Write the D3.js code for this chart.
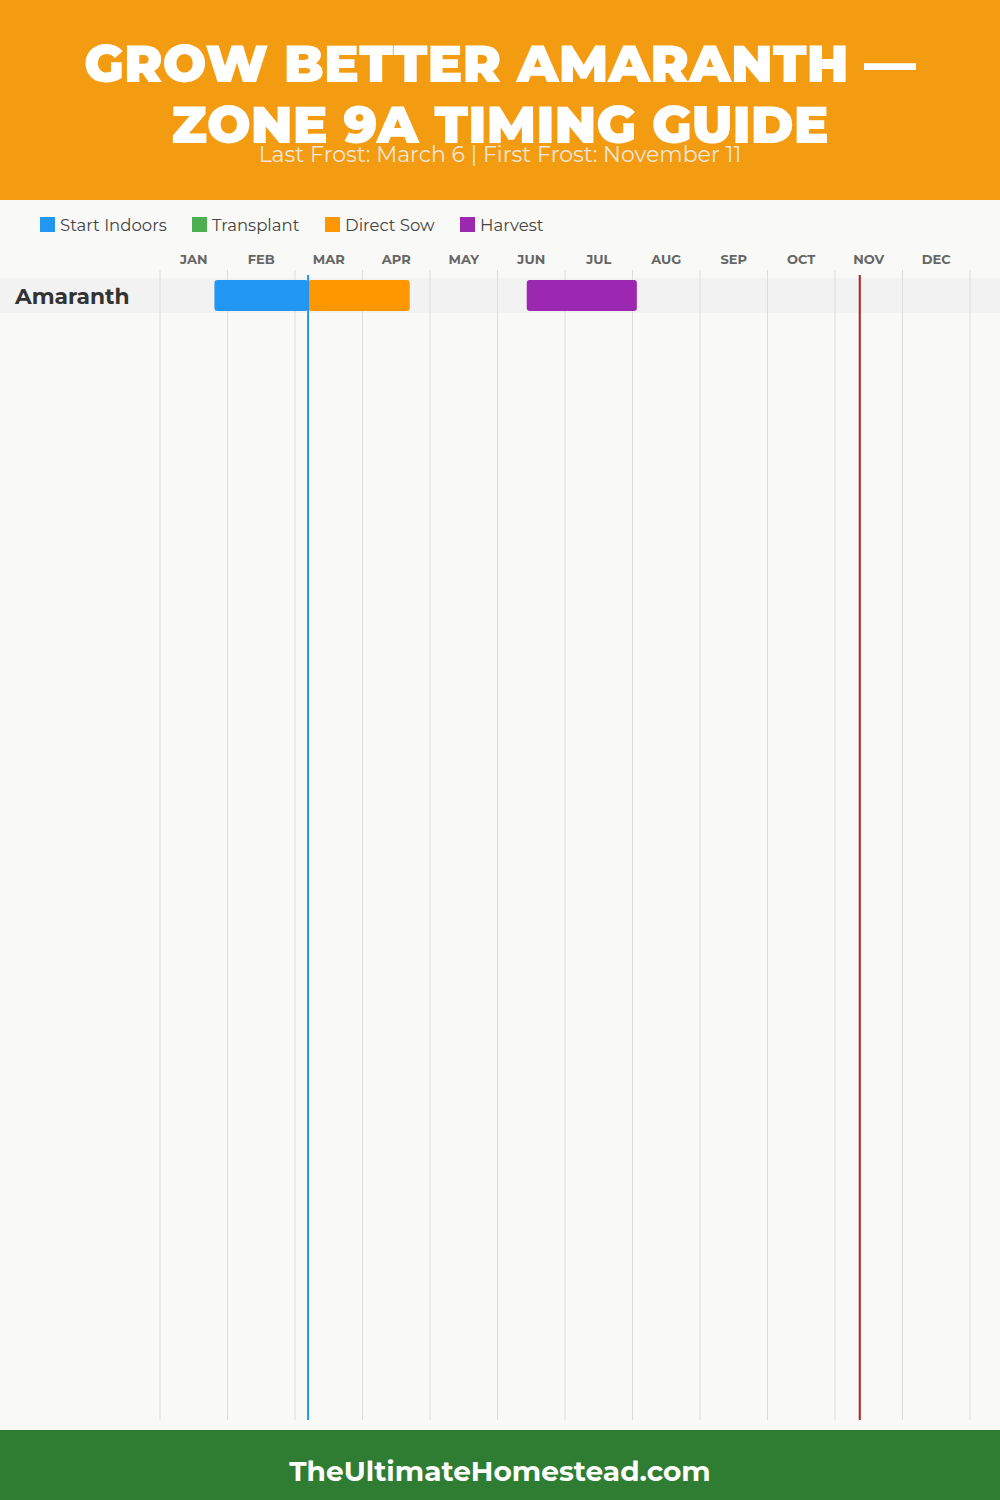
<!DOCTYPE html>
<html><head><meta charset="utf-8">
<script src="https://cdn.jsdelivr.net/npm/d3@7"></script>
<style>
html,body{margin:0;padding:0;background:#f9f9f7;}
svg{display:block;}
</style></head>
<body>
<svg id="chart" width="1000" height="1500"></svg>
<script>
// ---- data ----
const titleLines = ["GROW BETTER AMARANTH —", "ZONE 9A TIMING GUIDE"];
const subtitle = "Last Frost: March 6 | First Frost: November 11";
const footerText = "TheUltimateHomestead.com";
const months = ["JAN","FEB","MAR","APR","MAY","JUN","JUL","AUG","SEP","OCT","NOV","DEC"];
const daysInMonth = [31,28,31,30,31,30,31,31,30,31,30,31];
const crops = ["Amaranth"];
const legendNames = ["Start Indoors","Transplant","Direct Sow","Harvest"];
const legendColors = ["#2196F3","#4CAF50","#FF9800","#9C27B0"];
// tasks: [crop, type, start [month(1-12), day], end [month, day]]
const taskCrop = ["Amaranth","Amaranth","Amaranth"];
const taskType = ["Start Indoors","Direct Sow","Harvest"];
const taskStart = [[1,25],[3,6],[6,13]];
const taskEnd = [[3,6],[4,21],[8,2]];
const lastFrost = [3,6];
const firstFrost = [11,11];

// ---- drawing ----
const W = 1000, H = 1500;
const svg = d3.select("#chart");
const FONT = "Montserrat, 'Open Sans', 'Noto Sans', sans-serif";

svg.append("rect").attr("width",W).attr("height",H).attr("fill","#f9f9f7");

// header
svg.append("rect").attr("x",0).attr("y",0).attr("width",W).attr("height",200).attr("fill","#F39C12");
svg.selectAll("text.title").data(titleLines).join("text")
  .attr("class","title")
  .attr("x",W/2).attr("y",(d,i)=>82+i*61)
  .attr("text-anchor","middle")
  .attr("font-family",FONT)
  .attr("font-weight",900)
  .attr("font-size",52)
  .attr("fill","#ffffff")
  .text(d=>d);
svg.append("text").attr("x",W/2).attr("y",162).attr("text-anchor","middle")
  .attr("font-family",FONT).attr("font-size",22).attr("fill","#f0f0f0").attr("fill-opacity",0.9)
  .text(subtitle);

// scale: fractional month position
const x0 = 160, x1 = 970;
const mScale = d3.scaleLinear().domain([0,12]).range([x0,x1]);
const dateX = ([m,d]) => mScale((m-1) + d/daysInMonth[m-1]);

// legend
const legendX = [40,192,325,460];
const lg = svg.append("g");
legendNames.forEach((n,i)=>{
  lg.append("rect").attr("x",legendX[i]).attr("y",217).attr("width",15).attr("height",15).attr("fill",legendColors[i]);
  lg.append("text").attr("x",legendX[i]+20).attr("y",230.5)
    .attr("font-family",FONT).attr("font-size",16.5).attr("fill","#444").text(n);
});

// month labels
svg.selectAll("text.month").data(months).join("text").attr("class","month")
  .attr("x",(d,i)=>mScale(i+0.5)).attr("y",264).attr("text-anchor","middle")
  .attr("font-family",FONT).attr("font-weight","bold").attr("font-size",13).attr("fill","#666")
  .text(d=>d);

// row band
const yBand = d3.scaleBand().domain(crops).range([278,278+35*crops.length]).padding(0);
svg.selectAll("rect.row").data(crops).join("rect").attr("class","row")
  .attr("x",0).attr("y",d=>yBand(d)).attr("width",W).attr("height",yBand.bandwidth()).attr("fill","#f2f2f2");

// grid lines
svg.selectAll("line.grid").data(d3.range(13)).join("line").attr("class","grid")
  .attr("x1",d=>mScale(d)).attr("x2",d=>mScale(d)).attr("y1",270).attr("y2",1420)
  .attr("stroke","#dcdcdc").attr("stroke-width",1);

// crop labels
svg.selectAll("text.crop").data(crops).join("text").attr("class","crop")
  .attr("x",15).attr("y",d=>yBand(d)+yBand.bandwidth()/2+8)
  .attr("font-family",FONT).attr("font-weight","bold").attr("font-size",21.8).attr("fill","#333")
  .text(d=>d);

// bars
const color = d3.scaleOrdinal().domain(legendNames).range(legendColors);
svg.selectAll("rect.bar").data(taskType.map((t,i)=>({crop:taskCrop[i],type:t,s:taskStart[i],e:taskEnd[i]})))
  .join("rect").attr("class","bar")
  .attr("x",d=>dateX(d.s)).attr("width",d=>dateX(d.e)-dateX(d.s))
  .attr("y",d=>yBand(d.crop)+2).attr("height",yBand.bandwidth()-4)
  .attr("rx",3).attr("fill",d=>color(d.type));

// frost lines
svg.append("line").attr("x1",dateX(lastFrost)).attr("x2",dateX(lastFrost)).attr("y1",275).attr("y2",1420)
  .attr("stroke","#2196F3").attr("stroke-width",2);
svg.append("line").attr("x1",dateX(firstFrost)).attr("x2",dateX(firstFrost)).attr("y1",275).attr("y2",1420)
  .attr("stroke","#B71C1C").attr("stroke-width",2);

// footer
svg.append("rect").attr("x",0).attr("y",1430).attr("width",W).attr("height",70).attr("fill","#2E7D32");
svg.append("text").attr("x",W/2).attr("y",1481).attr("text-anchor","middle")
  .attr("font-family",FONT).attr("font-weight","bold").attr("font-size",28).attr("fill","#fff")
  .text(footerText);
</script>
</body></html>
